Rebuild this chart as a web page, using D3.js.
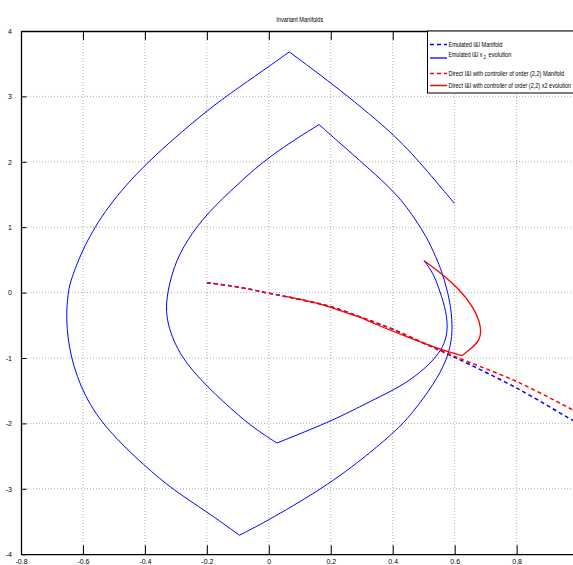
<!DOCTYPE html>
<html>
<head>
<meta charset="utf-8">
<script src="https://cdn.jsdelivr.net/npm/d3@7"></script>
<style>
  html, body { margin: 0; padding: 0; background: #fff; overflow: hidden; }
  svg { display: block; }
  text { font-family: "Liberation Sans Narrow", "Arial Narrow", "Liberation Sans", Arial, sans-serif; }
</style>
</head>
<body>
<svg id="chart" width="573" height="565"></svg>
<script>
// ---------- data ----------
const chartTitle = "Invariant Manifolds";
const xTicks = [-0.8, -0.6, -0.4, -0.2, 0, 0.2, 0.4, 0.6, 0.8, 1.0];
const yTicks = [-4, -3, -2, -1, 0, 1, 2, 3, 4];

const manifoldX         = [-0.2, -0.125, -0.06, 0, 0.06, 0.144, 0.2, 0.3, 0.4, 0.5, 0.6, 0.8, 0.98, 1.0];
const emulatedManifoldY = [0.15, 0.105, 0.05, -0.01, -0.065, -0.15, -0.215, -0.38, -0.56, -0.775, -0.99, -1.46, -1.95, -2.0];
const directManifoldY   = [0.15, 0.105, 0.05, -0.01, -0.065, -0.15, -0.215, -0.38, -0.56, -0.77, -0.975, -1.36, -1.79, -1.84];

const emulatedEvoX = [
  0.501, 0.531, 0.547, 0.569, 0.579, 0.569, 0.542, 0.488, 0.423, 0.359, 0.3, 0.2, 0.026,
  -0.039, -0.093, -0.2, -0.287, -0.33, -0.333, -0.308, -0.265, -0.2, -0.1, 0.004, 0.162,
  0.219, 0.316, 0.423, 0.488, 0.515, 0.548, 0.560, 0.585, 0.594, 0.587, 0.565, 0.52, 0.445, 0.40, 0.337, 0.2, 0, -0.095,
  -0.2, -0.308, -0.399, -0.523, -0.596, -0.642, -0.656, -0.647, -0.639, -0.599, -0.523, -0.399, -0.2, -0.093, 0.004, 0.066,
  0.198, 0.402, 0.499, 0.599];
const emulatedEvoY = [
  0.488, 0.295, 0.09, -0.215, -0.52, -0.775, -0.98, -1.23, -1.44, -1.59, -1.73, -1.97, -2.30,
  -2.10, -1.90, -1.44, -0.98, -0.47, -0.11, 0.40, 0.80, 1.21, 1.66, 2.10, 2.57,
  2.33, 1.925, 1.47, 1.01, 0.80, 0.45, 0.295, -0.11, -0.52, -0.83, -1.13, -1.49, -1.95, -2.15, -2.41, -2.92, -3.48, -3.71,
  -3.35, -3.02, -2.66, -2.10, -1.59, -0.98, -0.39, 0.04, 0.19, 0.70, 1.31, 1.98, 2.79, 3.15, 3.47, 3.68,
  3.22, 2.44, 1.93, 1.365];

const directEvoX = [0.501, 0.563, 0.617, 0.66, 0.687, 0.682, 0.655, 0.623, 0.553, 0.445, 0.337, 0.294, 0.208, 0.155, 0.058];
const directEvoY = [0.488, 0.27, 0.04, -0.215, -0.52, -0.725, -0.85, -0.965, -0.87, -0.675, -0.47, -0.37, -0.24, -0.155, -0.063];

const legendLabels = [
  "Emulated I&I Manifold",
  "Emulated I&I x",
  "Direct I&I with controller of order (2,2) Manifold",
  "Direct I&I with controller of order (2,2) x2 evolution"
];
const legendSub = "2";
const legendSubTail = "evolution";

// ---------- layout ----------
const svg = d3.select("#chart");
const L = 21, R = 578.6, T = 31, B = 554.2;
const x = d3.scaleLinear().domain([-0.8, 1.0]).range([L, R]);
const y = d3.scaleLinear().domain([-4, 4]).range([B, T]);
const fmt = d => String(d);
const FONT = "'Liberation Sans Narrow', 'Liberation Sans', Arial, sans-serif";

// text compressed horizontally to a target width (the reference uses a very narrow face)
function fitText(parent, str, x0, y0, size, width, anchor) {
  const t = parent.append("text").attr("x", 0).attr("y", 0).attr("dy", "0.35em")
    .attr("font-size", size).attr("fill", "#000").attr("font-family", FONT).text(str);
  const w = t.node().getComputedTextLength() || width;
  const sx = width / w;
  const tx = anchor === "middle" ? x0 - width / 2 : x0;
  t.attr("transform", `translate(${tx},${y0}) scale(${sx},1)`);
  return t;
}

// grid
const grid = svg.append("g");
grid.selectAll("line.gx").data(xTicks.filter(d => d > -0.8 && d < 1.0)).join("line")
  .attr("x1", d => x(d)).attr("x2", d => x(d)).attr("y1", T).attr("y2", B)
  .attr("stroke", "#9a9a9a").attr("stroke-width", 0.8).attr("stroke-dasharray", "1,2");
grid.selectAll("line.gy").data(yTicks.filter(d => d > -4 && d < 4)).join("line")
  .attr("x1", L).attr("x2", R).attr("y1", d => y(d)).attr("y2", d => y(d))
  .attr("stroke", "#9a9a9a").attr("stroke-width", 0.8).attr("stroke-dasharray", "1,2");

// axes (the 1.0 tick lies beyond the visible window, so its label is not shown)
const axB = svg.append("g").attr("transform", `translate(0,${B})`)
  .call(d3.axisBottom(x).tickValues(xTicks).tickSize(-9).tickSizeOuter(0)
    .tickFormat(d => x(d) > 573 ? "" : fmt(d)));
const axT = svg.append("g").attr("transform", `translate(0,${T})`)
  .call(d3.axisTop(x).tickValues(xTicks).tickSize(-9).tickSizeOuter(0).tickFormat(""));
const axL = svg.append("g").attr("transform", `translate(${L},0)`)
  .call(d3.axisLeft(y).tickValues(yTicks).tickSize(-5.5).tickSizeOuter(0).tickPadding(9).tickFormat(fmt));
[axB, axT, axL].forEach(g => {
  g.select(".domain").attr("stroke", "#000").attr("stroke-width", 1.3);
  g.selectAll(".tick line").attr("stroke", "#000").attr("stroke-width", 1);
  g.selectAll("text").attr("font-size", 7).attr("fill", "#000").attr("font-family", FONT);
});
axB.selectAll("text").attr("y", 9.5).attr("dy", null);

// lines
const line = d3.line().x(d => x(d[0])).y(d => y(d[1])).curve(d3.curveCatmullRom.alpha(0.5));
const smooth = d3.line().x(d => x(d[0])).y(d => y(d[1])).curve(d3.curveBasis);
const zip = (a, b) => a.map((v, i) => [v, b[i]]);
// split a trajectory at its sharp corners (local extrema in y) so corners stay sharp
function splitAtCorners(pts) {
  const segs = [];
  let cur = [pts[0]];
  for (let i = 1; i < pts.length; i++) {
    cur.push(pts[i]);
    if (i < pts.length - 1) {
      const a = pts[i - 1][1], b = pts[i][1], c = pts[i + 1][1];
      if ((b > a && b > c) || (b < a && b < c)) { segs.push(cur); cur = [pts[i]]; }
    }
  }
  segs.push(cur);
  return segs;
}
function drawTrajectory(pts, color, width) {
  const d = splitAtCorners(pts).map(s => smooth(s)).join("");
  svg.append("path").attr("d", d).attr("fill", "none").attr("stroke", color)
    .attr("stroke-width", width).attr("stroke-linejoin", "miter");
}

svg.append("path").datum(zip(manifoldX, emulatedManifoldY)).attr("d", line)
  .attr("fill", "none").attr("stroke", "#0000ff").attr("stroke-width", 1.5).attr("stroke-dasharray", "4,3");
drawTrajectory(zip(emulatedEvoX, emulatedEvoY), "#0000ff", 1);
svg.append("path").datum(zip(manifoldX, directManifoldY)).attr("d", line)
  .attr("fill", "none").attr("stroke", "#ff0000").attr("stroke-width", 1.5).attr("stroke-dasharray", "4,3");
drawTrajectory(zip(directEvoX, directEvoY), "#ff0000", 1.3);

// title
fitText(svg, chartTitle, (L + R) / 2, 19.5, 8, 47, "middle");

// legend
const lg = svg.append("g");
lg.append("rect").attr("x", 427.5).attr("y", T).attr("width", 170).attr("height", 62)
  .attr("fill", "#fff").attr("stroke", "#000").attr("stroke-width", 1);
const rows = [
  { yy: 44.5, ty: 44.5, color: "#0000ff", dash: "4,3", w: 1.5, len: 54 },
  { yy: 58, ty: 54.5, color: "#0000ff", dash: null, w: 1.3, len: 34 },
  { yy: 73.5, ty: 73.5, color: "#ff0000", dash: "4,3", w: 1.5, len: 116 },
  { yy: 85.5, ty: 85.5, color: "#ff0000", dash: null, w: 1.5, len: 123 }
];
rows.forEach((r, i) => {
  lg.append("line").attr("x1", 430).attr("x2", 447).attr("y1", r.yy).attr("y2", r.yy)
    .attr("stroke", r.color).attr("stroke-width", r.w).attr("stroke-dasharray", r.dash);
  fitText(lg, legendLabels[i], 448.5, r.ty, 8, r.len, "start");
});
fitText(lg, legendSub, 483.5, 57.5, 5.5, 2.5, "start");
fitText(lg, legendSubTail, 488.5, 54.5, 8, 23, "start");
</script>
</body>
</html>
